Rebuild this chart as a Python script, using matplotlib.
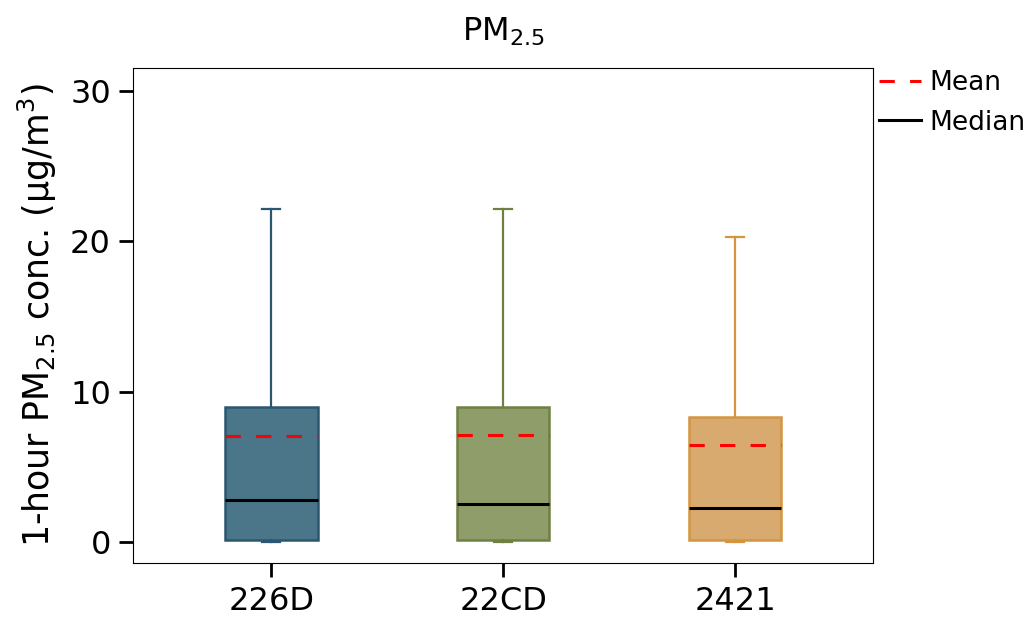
import matplotlib
matplotlib.use("Agg")
import matplotlib.pyplot as plt
from matplotlib.lines import Line2D

# values (ug/m3)
sites = ['226D', '22CD', '2421']
whislo = [0.0, 0.0, 0.0]
q1 = [0.15, 0.15, 0.15]
med = [2.78, 2.52, 2.26]
q3 = [8.96, 8.96, 8.3]
whishi = [22.15, 22.15, 20.25]
means = [7.03, 7.1, 6.44]

face_colors = ['#4b7588', '#8f9d6b', '#d8aa6f']
edge_colors = ['#2b5870', '#6e8042', '#d3953f']

stats = []
for i in range(len(sites)):
    stats.append(dict(label=sites[i], whislo=whislo[i], q1=q1[i], med=med[i],
                      q3=q3[i], whishi=whishi[i], mean=means[i], fliers=[]))

fig, ax = plt.subplots(figsize=(10.32, 6.19), dpi=100)
fig.subplots_adjust(left=0.129, right=0.846, top=0.89, bottom=0.09)

dash = (0, (5, 5))
bp = ax.bxp(stats, positions=[1, 2, 3], widths=0.4, patch_artist=True,
            showmeans=True, meanline=True, showfliers=False, capwidths=0.08,
            medianprops=dict(color='black', linewidth=2.2),
            meanprops=dict(color='red', linestyle=dash, linewidth=2.2))

for i in range(len(sites)):
    bp['boxes'][i].set_facecolor(face_colors[i])
    bp['boxes'][i].set_edgecolor(edge_colors[i])
    bp['boxes'][i].set_linewidth(1.8)
    for w in bp['whiskers'][2*i:2*i+2]:
        w.set_color(edge_colors[i]); w.set_linewidth(1.6)
    for c in bp['caps'][2*i:2*i+2]:
        c.set_color(edge_colors[i]); c.set_linewidth(1.6)

ax.set_xlim(0.405, 3.595)
ax.set_ylim(-1.4, 31.5)
ax.set_yticks([0, 10, 20, 30])
ax.tick_params(axis='both', labelsize=23, width=2, length=10, pad=6)
ax.set_ylabel('1-hour PM$_{2.5}$ conc. (μg/m$^3$)', fontsize=25, labelpad=8)
ax.set_title('PM$_{2.5}$', fontsize=23, pad=20)

handles = [Line2D([], [], color='red', linestyle=dash, linewidth=2.2),
           Line2D([], [], color='black', linewidth=2.2)]
ax.legend(handles, ['Mean', 'Median'], loc='upper left', bbox_to_anchor=(0.99, 1.022),
          frameon=False, fontsize=19, handlelength=1.6, handletextpad=0.3,
          borderaxespad=0.1)

plt.savefig('out.png', dpi=100)
